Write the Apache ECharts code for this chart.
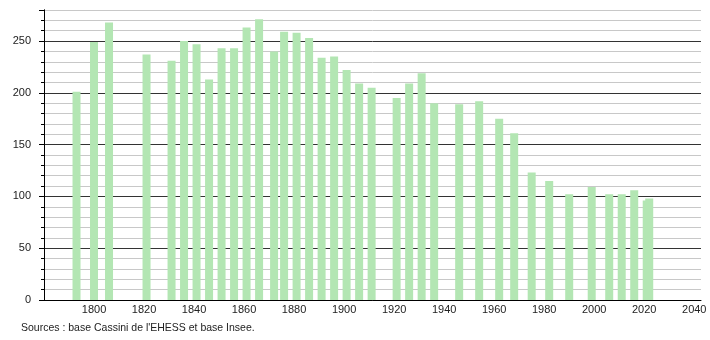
<!DOCTYPE html>
<html>
<head>
<meta charset="utf-8">
<script src="https://cdn.jsdelivr.net/npm/echarts@6/dist/echarts.min.js"></script>
<style>html,body{margin:0;padding:0;background:#fff}#c{width:710px;height:340px}</style>
</head>
<body>
<div id="c"></div>
<script>
const years = [1793,1800,1806,1821,1831,1836,1841,1846,1851,1856,1861,1866,1872,1876,1881,1886,1891,1896,1901,1906,1911,1921,1926,1931,1936,1946,1954,1962,1968,1975,1982,1990,1999,2006,2011,2016,2021,2022];
const population = [201,249,268,237,231,250,247,213,243,243,263,271,240,259,258,253,234,235,222,209,205,195,209,219,190,189,192,175,161,123,115,102,109,102,102,106,96,98];
const yTickLabels = [0,50,100,150,200,250];
const xTickLabels = [1800,1820,1840,1860,1880,1900,1920,1940,1960,1980,2000,2020,2040];
const sourceText = "Sources : base Cassini de l'EHESS et base Insee.";

const chart = echarts.init(document.getElementById('c'), null, {renderer:'canvas'});
const font = 'Liberation Sans, Arial, sans-serif';
chart.setOption({
  animation:false,
  backgroundColor:'#fff',
  grid:{left:44, right:9, top:10, bottom:40, containLabel:false},
  xAxis:{
    type:'value', min:1780, max:2042.7, interval:20,
    axisLine:{show:true, lineStyle:{color:'#000', width:1}},
    axisTick:{show:false},
    splitLine:{show:false},
    axisLabel:{
      color:'#222', fontSize:11, fontFamily:font, margin:4,
      showMinLabel:false, showMaxLabel:false,
      formatter:v => xTickLabels.includes(v) ? String(v) : ''
    }
  },
  yAxis:[{
    type:'value', min:0, max:280, interval:10,
    axisLine:{show:true, lineStyle:{color:'#000'}},
    axisTick:{show:true, length:3, lineStyle:{color:'#000'}},
    axisLabel:{show:false},
    splitLine:{show:true, lineStyle:{color:['#333','#c8c8c8','#c8c8c8','#c8c8c8','#c8c8c8'], width:1}}
  },{
    type:'value', min:0, max:280, interval:50, position:'left',
    axisLine:{show:true, lineStyle:{color:'#000'}},
    axisTick:{show:true, length:5, lineStyle:{color:'#000'}},
    splitLine:{show:false},
    axisLabel:{
      color:'#222', fontSize:11, fontFamily:font, margin:13,
      formatter:v => yTickLabels.includes(v) ? String(v) : ''
    }
  }],
  series:[{
    type:'bar', yAxisIndex:0,
    barWidth:8,
    itemStyle:{color:'#b3e6b3'},
    data: years.map((y,i)=>[y, population[i]]),
    z:1
  }],
  graphic:[{
    type:'text', left:21, top:323,
    style:{text:sourceText, fill:'#222', fontSize:10.5, fontFamily:font}
  }]
});
</script>
</body>
</html>
